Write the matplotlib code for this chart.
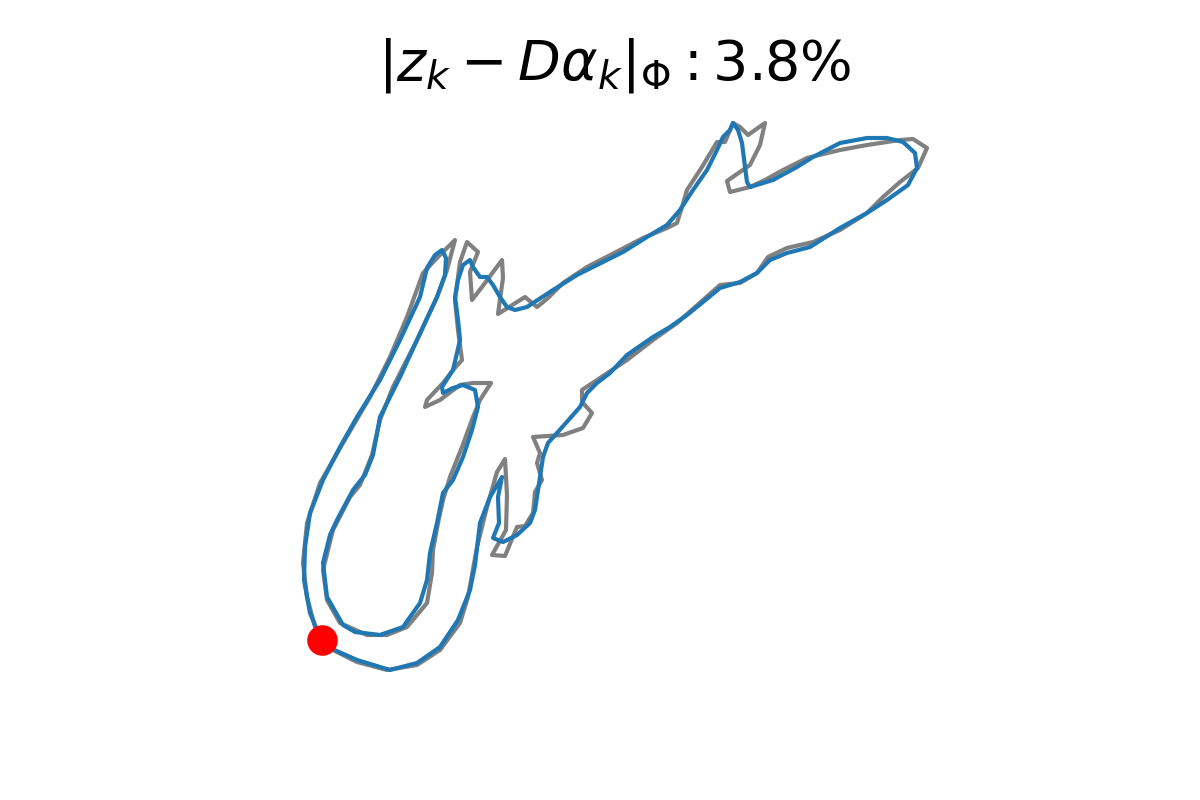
import matplotlib.pyplot as plt

# contour (grey = target shape, blue = reconstruction)
shape_x = [322, 333, 357, 387, 417, 440, 460, 468, 477, 487, 497, 505, 507, 506, 492,
           505, 517, 525, 533, 535, 542, 537, 540, 533, 563, 583, 592, 582, 582, 597,
           627, 653, 677, 703, 720, 740, 757, 768, 787, 813, 840, 867, 883, 900, 918,
           927, 913, 900, 867, 840, 807, 783, 765, 750, 730, 727, 750, 760, 765, 748,
           740, 733, 725, 717, 702, 687, 682, 677, 667, 643, 620, 587, 563, 548, 537,
           525, 498, 503, 502, 482, 472, 470, 478, 467, 460, 455, 458, 462, 453, 443,
           427, 425, 440, 460, 473, 491, 480, 473, 462, 450, 443, 438, 433, 432, 427,
           407, 387, 367, 340, 327, 323, 333, 350, 360, 372, 380, 393, 417, 437, 447,
           455, 437, 423, 407, 390, 370, 343, 320, 307, 303, 307, 315, 322]
shape_y = [640, 650, 662, 670, 665, 650, 623, 597, 547, 507, 472, 459, 495, 530, 555,
           556, 527, 526, 513, 492, 480, 463, 453, 437, 435, 428, 413, 402, 390, 380,
           360, 340, 323, 300, 285, 283, 273, 257, 248, 242, 230, 213, 197, 182, 168,
           148, 139, 140, 145, 150, 158, 170, 180, 187, 192, 181, 165, 145, 123, 135,
           127, 123, 142, 142, 167, 190, 207, 223, 228, 238, 250, 267, 283, 298, 307,
           297, 314, 278, 260, 287, 300, 272, 252, 242, 262, 300, 330, 360, 370, 383,
           400, 407, 400, 385, 383, 383, 400, 417, 447, 477, 500, 523, 550, 573, 603,
           627, 635, 635, 623, 600, 570, 530, 497, 485, 455, 420, 387, 340, 297, 270,
           240, 258, 273, 317, 357, 397, 443, 483, 523, 563, 597, 627, 640]

recon_x = [322, 330, 357, 390, 417, 440, 458, 470, 475, 480, 490, 502, 498, 499, 493,
           503, 517, 530, 535, 537, 540, 543, 548, 557, 580, 587, 597, 610, 627, 653,
           670, 687, 703, 720, 740, 757, 770, 787, 810, 840, 867, 887, 908, 917, 915,
           903, 887, 867, 840, 813, 797, 773, 750, 747, 745, 742, 738, 733, 730, 723,
           717, 707, 693, 680, 667, 647, 623, 597, 577, 553, 533, 527, 515, 507, 500,
           493, 487, 480, 473, 470, 463, 458, 455, 458, 460, 453, 442, 443, 453, 463,
           475, 478, 472, 463, 453, 443, 437, 430, 427, 420, 403, 380, 355, 343, 327,
           323, 330, 337, 353, 365, 373, 380, 400, 423, 437, 445, 446, 442, 435, 427,
           420, 400, 380, 357, 340, 323, 310, 305, 304, 310, 320, 322]
recon_y = [640, 648, 660, 670, 663, 647, 620, 590, 565, 523, 497, 477, 497, 523, 538,
           542, 535, 523, 510, 497, 477, 457, 443, 433, 407, 393, 383, 373, 355, 337,
           327, 315, 302, 288, 282, 273, 260, 253, 247, 228, 213, 200, 185, 168, 153,
           142, 138, 138, 143, 157, 167, 180, 187, 182, 167, 143, 130, 123, 130, 137,
           150, 170, 190, 210, 225, 237, 252, 265, 275, 290, 303, 307, 310, 307, 297,
           285, 277, 277, 267, 260, 265, 280, 297, 320, 340, 370, 387, 393, 388, 385,
           390, 407, 430, 457, 480, 493, 523, 553, 580, 603, 627, 635, 632, 625, 597,
           563, 535, 520, 490, 475, 455, 417, 377, 327, 297, 275, 258, 250, 255, 268,
           297, 340, 380, 417, 447, 480, 513, 547, 580, 613, 637, 640]

start_x = [322]
start_y = [640]
error_pct = 3.8

fig, ax = plt.subplots(figsize=(6, 4), dpi=200)

ax.plot(shape_x, shape_y, color="grey")
ax.plot(recon_x, recon_y, color="tab:blue")
ax.plot(start_x, start_y, "o", color="red", markersize=10)

ax.set_title(rf"$|z_k - D\alpha_k|_\Phi: {error_pct:.1f}\%$", fontsize=20)
ax.set_xlim(150, 1080)
ax.set_ylim(712, 96)
ax.set_aspect("equal")
ax.axis("off")

fig.savefig("out.png", dpi=200)
